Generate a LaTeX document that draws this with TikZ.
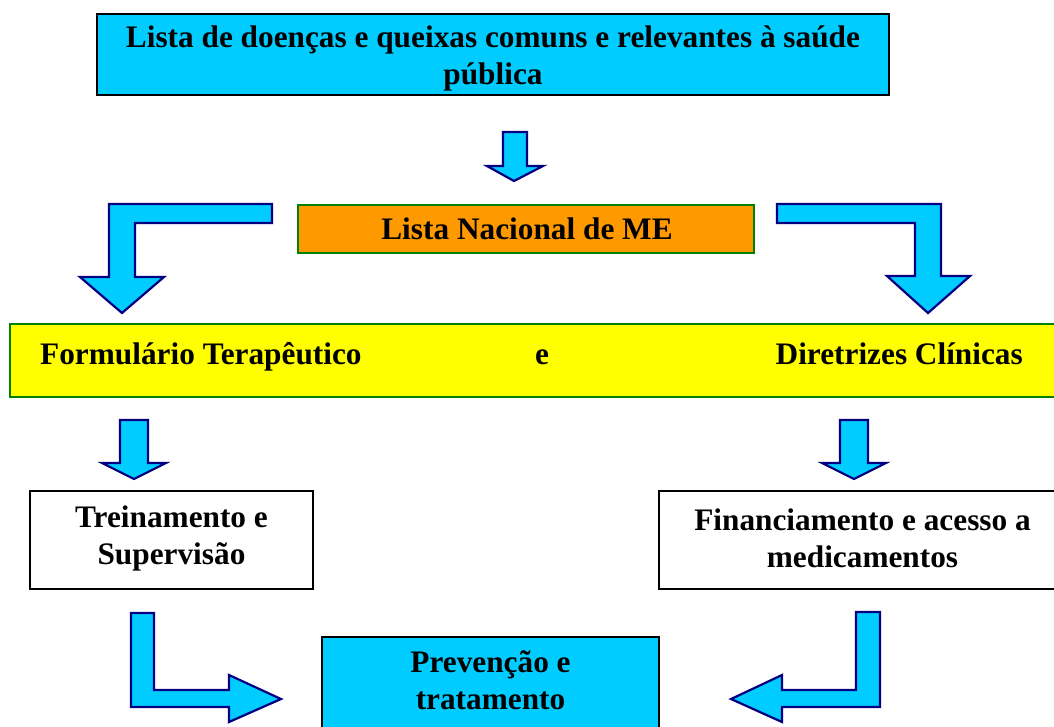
\documentclass[tikz,border=0pt]{standalone}
\usepackage{fontspec}
\setmainfont{Liberation Serif}
\definecolor{cy}{HTML}{00CCFF}
\definecolor{orng}{HTML}{FF9900}
\definecolor{yel}{HTML}{FFFF00}
\definecolor{grn}{HTML}{008000}
\definecolor{navy}{HTML}{000080}
\begin{document}
\begin{tikzpicture}[x=1pt,y=-1pt,
  box/.style={draw=black, line width=1.5pt, inner sep=0pt, align=center},
  txt/.style={inner sep=0pt, align=center, font=\bfseries\fontsize{31.3}{37}\selectfont},
  blockarrow/.style={fill=cy, draw=navy, line width=2.2pt, line join=miter}]
\useasboundingbox (0,0) rectangle (1054,726);
\clip (0,0) rectangle (1054,726);
\fill[white] (0,0) rectangle (1054,726);

% boxes
\node[box, fill=cy, minimum width=792, minimum height=81] (top) at (493,54.5) {};
\node[txt] (toptxt) at (493,58) {Lista de doenças e queixas comuns e relevantes à saúde\\pública};

\node[box, draw=grn, fill=orng, minimum width=456, minimum height=48] (me) at (526,229) {};
\node[txt] (metxt) at (527,229) {Lista Nacional de ME};

\node[box, draw=grn, line width=2pt, fill=yel, minimum width=1050, minimum height=73] (bar) at (535,360.5) {};
\node[txt, anchor=base west] (ft) at (40,364) {Formulário Terapêutico};
\node[txt, anchor=base] (e) at (542,364) {e};
\node[txt, anchor=base east] (dc) at (1023,364) {Diretrizes Clínicas};

\node[box, fill=white, minimum width=283, minimum height=98] (trein) at (171.5,540) {};
\node[txt] (treintxt) at (171.5,538) {Treinamento e\\Supervisão};

\node[box, fill=white, minimum width=407, minimum height=98] (fin) at (862.5,540) {};
\node[txt] (fintxt) at (862.5,538) {Financiamento e acesso a\\medicamentos};

\node[box, fill=cy, minimum width=337, minimum height=110] (prev) at (490.5,692) {};
\node[txt] (prevtxt) at (490.5,680) {Prevenção e\\tratamento};

% block arrows
\draw[blockarrow] (503,132) -- (527,132) -- (527,166) -- (543,166) -- (514,181) -- (487,166) -- (503,166) -- cycle;
\draw[blockarrow] (272,204) -- (272,223) -- (135,223) -- (135,277) -- (164,277) -- (122,313) -- (80,277) -- (109,277) -- (109,204) -- cycle;
\draw[blockarrow] (777,204) -- (941,204) -- (941,276) -- (970,276) -- (928,313) -- (887,276) -- (915,276) -- (915,223) -- (777,223) -- cycle;
\draw[blockarrow] (120,420) -- (148,420) -- (148,463) -- (166,463) -- (134,479) -- (102,463) -- (120,463) -- cycle;
\draw[blockarrow] (840,420) -- (868,420) -- (868,463) -- (886,463) -- (854,479) -- (822,463) -- (840,463) -- cycle;
\draw[blockarrow] (131,613) -- (154,613) -- (154,690) -- (229,690) -- (229,675) -- (281,699) -- (229,722) -- (229,707) -- (131,707) -- cycle;
\draw[blockarrow] (856,612) -- (880,612) -- (880,707) -- (782,707) -- (782,722) -- (731,699) -- (782,675) -- (782,690) -- (856,690) -- cycle;
\end{tikzpicture}
\end{document}
